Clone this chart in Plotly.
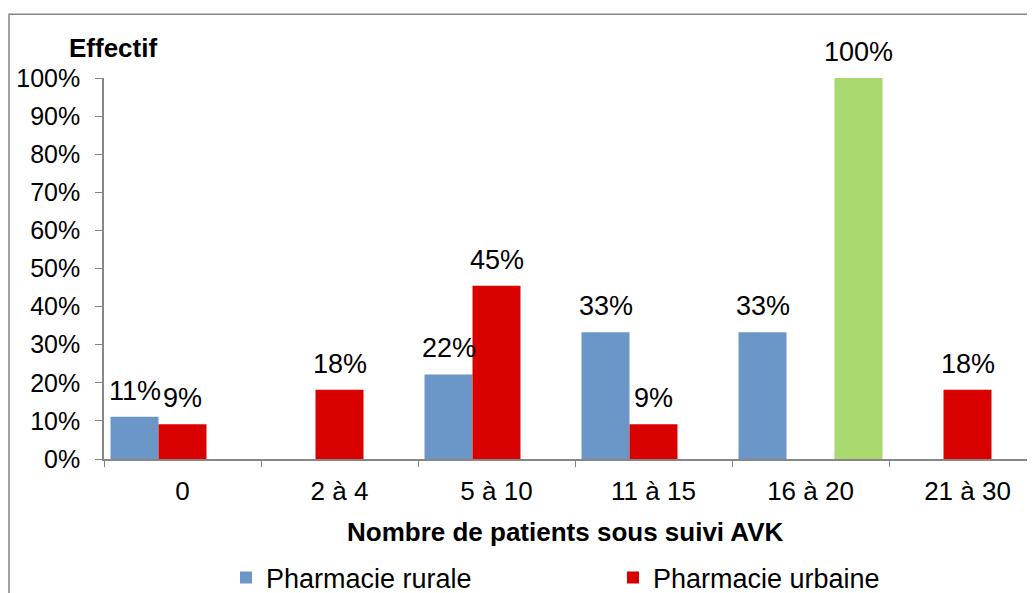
import plotly.graph_objects as go

categories = ['0', '2 à 4', '5 à 10', '11 à 15', '16 à 20', '21 à 30']
rurale = [11.1, None, 22.2, 33.3, 33.3, None]
urbaine = [9.1, 18.2, 45.45, 9.1, None, 18.2]
autre = [None, None, None, None, 100, None]
y_ticks = [0, 10, 20, 30, 40, 50, 60, 70, 80, 90, 100]

FONT = 'Liberation Sans, Arial, sans-serif'
GRIS = '#868686'

# la page html ajoute une marge de 8 px autour de la figure
OFF = 8
W, H = 1035 - OFF, 593
ML, MR, MT, MB = 104 - OFF, 0, 77.5 - OFF, 133.5 + OFF
PW, PH = W - ML - MR, H - MT - MB
CAT_W = 157
BARGAP = 0.083
SLOT = CAT_W * (1 - BARGAP) / 3


def px_x(x):
    return (x - OFF - ML) / PW


def px_y(y):
    return (H - MB - (y - OFF)) / PH


series = [
    ('Pharmacie rurale', rurale, '#6A96C8', True),
    ('Pharmacie urbaine', urbaine, '#D90000', True),
    ('', autre, '#A9D86E', False),
]

fig = go.Figure()
labels = []
for i, (nom, vals, couleur, legende) in enumerate(series):
    fig.add_trace(go.Bar(name=nom, x=categories, y=vals, showlegend=legende,
                         marker=dict(color=couleur, line=dict(width=0))))
    for cat, v in zip(categories, vals):
        if v is None:
            continue
        labels.append(dict(text=f'{v:.0f}%', x=cat, y=v, xref='x', yref='y',
                           xshift=(i - 1) * SLOT, yshift=9, showarrow=False,
                           xanchor='center', yanchor='bottom',
                           font=dict(size=27, color='black')))

fig.update_layout(
    width=W, height=H,
    margin=dict(l=ML, r=MR, t=MT, b=MB, autoexpand=False),
    barmode='group', bargap=BARGAP, bargroupgap=0,
    paper_bgcolor='white', plot_bgcolor='white',
    font=dict(family=FONT, size=26, color='black'),
    legend=dict(orientation='h', xref='container', yref='container',
                x=(226 - OFF) / W, y=1 - (578 - OFF) / H, xanchor='left', yanchor='middle',
                entrywidth=342, entrywidthmode='pixels',
                font=dict(size=27), itemwidth=30),
    shapes=[dict(type='rect', xref='paper', yref='paper',
                 x0=px_x(9), x1=px_x(1100), y0=px_y(650), y1=px_y(13.5),
                 line=dict(color=GRIS, width=1.5), layer='below')],
    annotations=labels + [
        dict(text='<b>Effectif</b>', x=px_x(113), y=px_y(47), xref='paper', yref='paper',
             showarrow=False, xanchor='center', yanchor='middle', font=dict(size=26)),
        dict(text='<b>Nombre de patients sous suivi AVK</b>', x=px_x(565), y=px_y(533),
             xref='paper', yref='paper', showarrow=False, xanchor='center', yanchor='middle',
             font=dict(size=26)),
    ],
)

fig.update_xaxes(range=[-0.5, -0.5 + PW / CAT_W], showline=True, linecolor=GRIS, linewidth=1.5,
                 ticks='outside', tickson='boundaries', ticklen=6, tickcolor=GRIS,
                 ticklabelstandoff=8, showgrid=False, zeroline=False,
                 tickfont=dict(size=26), automargin=False)
fig.update_yaxes(range=[0, 100], tickvals=y_ticks, ticktext=[f'{v}%' for v in y_ticks],
                 showline=True, linecolor=GRIS, linewidth=1.5, ticks='outside', ticklen=7,
                 tickcolor=GRIS, ticklabelstandoff=10, showgrid=False, zeroline=False,
                 tickfont=dict(size=25), automargin=False)

fig.write_html('out.html')
